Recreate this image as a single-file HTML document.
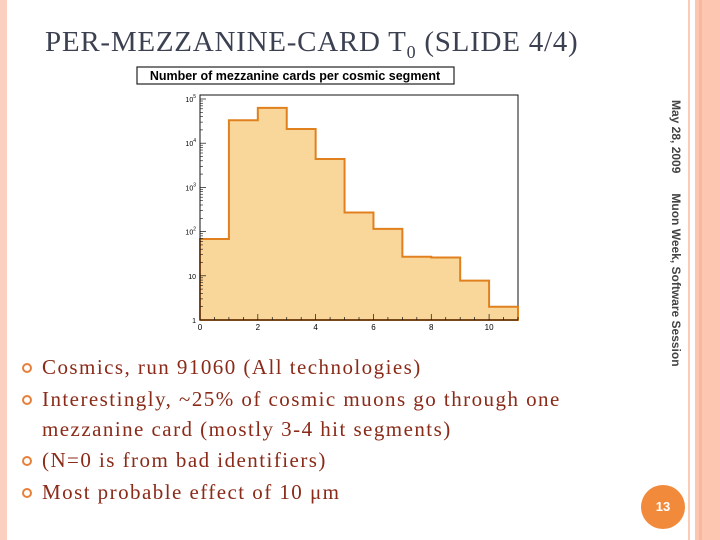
<!DOCTYPE html>
<html><head><meta charset="utf-8"><style>
body{margin:0;width:720px;height:540px;overflow:hidden;background:#fff;position:relative;font-family:"Liberation Serif",serif}
.abs{position:absolute}
.bul{position:absolute;left:42px;font-size:21px;letter-spacing:1.45px;color:#8a2a18;line-height:30px;white-space:nowrap}
.dot{position:absolute;left:-20px;top:11px;width:6px;height:6px;border:2px solid #e8803a;border-radius:50%}
</style></head><body>
<div class="abs" style="left:0;top:0;width:7px;height:540px;background:#fbd0c0"></div>
<div class="abs" style="left:688px;top:0;width:2px;height:540px;background:#fbcbb8"></div>
<div class="abs" style="left:695px;top:0;width:25px;height:540px;background:#fcc6b0"></div>
<div class="abs" style="left:699px;top:0;width:3px;height:540px;background:#f9b79d"></div>
<div class="abs" style="left:45px;top:26px;font-size:29px;letter-spacing:0.75px;color:#3c4152;white-space:nowrap">PER-MEZZANINE-CARD T<sub style="font-size:18px">0</sub> (SLIDE 4/4)</div>
<div class="abs" style="left:683px;top:100px;transform-origin:0 0;transform:rotate(90deg);font-family:'Liberation Sans',sans-serif;font-size:12px;font-weight:bold;color:#444;white-space:nowrap">May 28, 2009&nbsp;&nbsp;&nbsp;&nbsp;&nbsp;&nbsp;Muon Week, Software Session</div>
<div class="abs" style="left:641px;top:485px;width:44px;height:44px;border-radius:50%;background:#f28a3c;color:#fff;font-family:'Liberation Sans',sans-serif;font-weight:bold;font-size:13px;text-align:center;line-height:44px">13</div>
<svg class="abs" style="left:0;top:0" width="720" height="540">
<g id="chart"></g>
</svg>
<div class="bul" style="top:352px"><span class="dot"></span>Cosmics, run 91060 (All technologies)</div>
<div class="bul" style="top:384px"><span class="dot"></span>Interestingly, ~25% of cosmic muons go through one<br>mezzanine card (mostly 3-4 hit segments)</div>
<div class="bul" style="top:445px"><span class="dot"></span>(N=0 is from bad identifiers)</div>
<div class="bul" style="top:477px"><span class="dot"></span>Most probable effect of 10 μm</div>
<script>
const binEdges=[0,1,2,3,4,5,6,7,8,9,10,11];
const counts=[68,33000,63000,21000,4400,270,115,27,26,7.8,2];
const xTicks=[0,2,4,6,8,10];
const yTicks=[1,10,100,1000,10000,100000];
const yTickLabels=['1','10','10<tspan dy="-4" font-size="5">2</tspan>','10<tspan dy="-4" font-size="5">3</tspan>','10<tspan dy="-4" font-size="5">4</tspan>','10<tspan dy="-4" font-size="5">5</tspan>'];
const L=200,R=518,T=95,B=320;
const X=v=>L+(v-0)/(11-0)*(R-L);
const Y=v=>B-Math.log10(v)*44.2;
const ns='http://www.w3.org/2000/svg';
const g=document.getElementById('chart');
function mk(t,a){const e=document.createElementNS(ns,t);for(const k in a)e.setAttribute(k,a[k]);g.appendChild(e);return e;}
let r=mk('rect',{x:137,y:67,width:317,height:17,fill:'#fff',stroke:'#222','stroke-width':1.2});


let t=mk('text',{x:295,y:80,'text-anchor':'middle','font-family':'Liberation Sans,sans-serif','font-weight':'bold','font-size':12.5});
t.textContent='Number of mezzanine cards per cosmic segment';


let fr=mk('rect',{x:L,y:T,width:R-L,height:B-T,fill:'#fff',stroke:'#111','stroke-width':1});


let d='M'+X(binEdges[0])+','+B;
counts.forEach((c,i)=>{d+=' L'+X(binEdges[i])+','+Y(c)+' L'+X(binEdges[i+1])+','+Y(c);});
d+=' L'+X(binEdges[binEdges.length-1])+','+B+' Z';
let p=mk('path',{d:d,fill:'#f9d79b',stroke:'#e0801e','stroke-width':2});


mk('line',{x1:L,y1:T,x2:L,y2:B,stroke:'#111'});
mk('line',{x1:L,y1:B,x2:R,y2:B,stroke:'#111'});
for(let v=0;v<=11;v+=0.5){mk('line',{x1:X(v),y1:B,x2:X(v),y2:B-(v%2===0?6:3),stroke:'#111','stroke-width':0.7});}
xTicks.forEach(v=>{let e=mk('text',{x:X(v),y:B+10,'text-anchor':'middle','font-family':'Liberation Sans,sans-serif','font-size':8});e.textContent=v;

});
yTicks.forEach((v,i)=>{mk('line',{x1:L,y1:Y(v),x2:L+6,y2:Y(v),stroke:'#111','stroke-width':0.7});
if(i<yTicks.length-1)for(let k=2;k<10;k++)mk('line',{x1:L,y1:Y(v*k),x2:L+3,y2:Y(v*k),stroke:'#111','stroke-width':0.6});
let e=mk('text',{x:L-4,y:Y(v)+3,'text-anchor':'end','font-family':'Liberation Sans,sans-serif','font-size':7});e.innerHTML=yTickLabels[i];

});
</script>
</body></html>
